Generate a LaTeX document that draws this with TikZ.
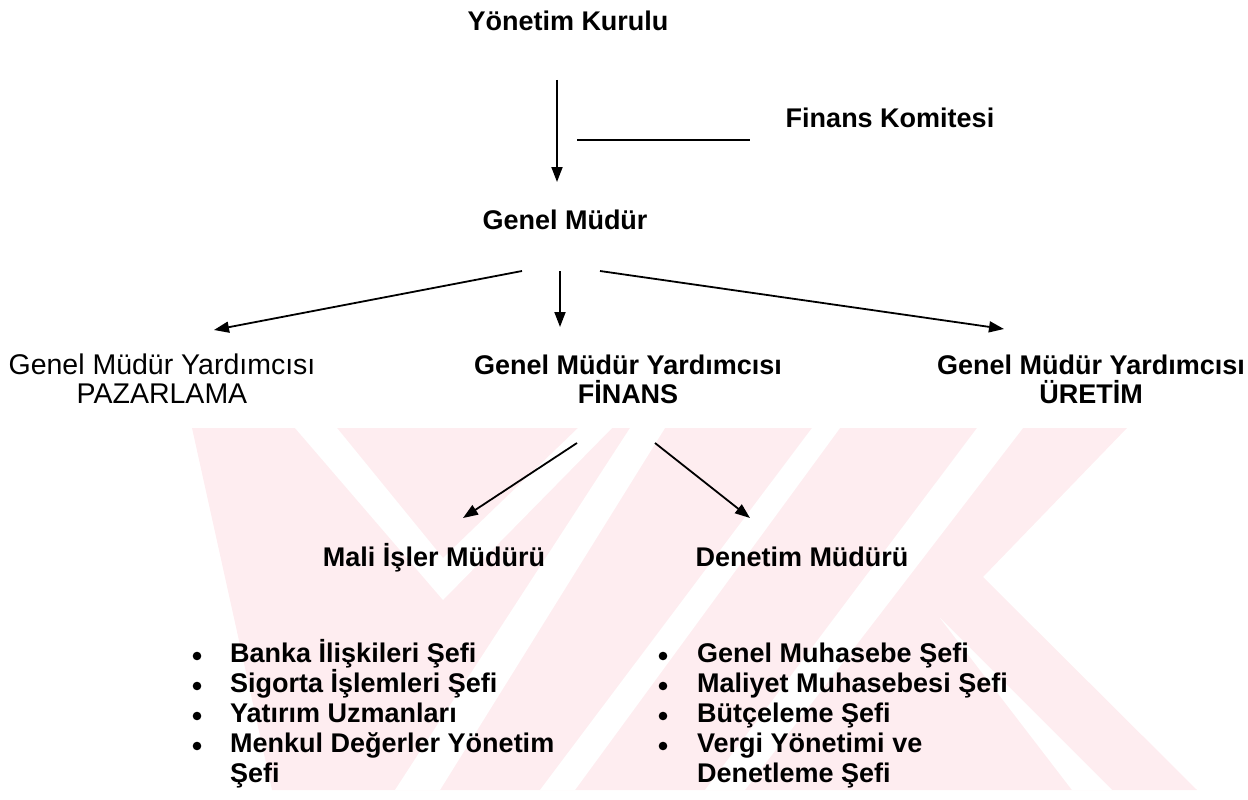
\documentclass[tikz,border=0pt]{standalone}
\usepackage{fontspec}
\setmainfont{Liberation Sans}
\usepackage{tikz}
\usetikzlibrary{arrows.meta}
\definecolor{wmpink}{RGB}{254,237,240}
\tikzset{
  lbl/.style={font=\fontsize{27}{29}\selectfont\bfseries, inner sep=0pt},
  lblthin/.style={font=\fontsize{28.5}{29}\selectfont, inner sep=0pt},
  arr/.style={->, line width=1.8pt},
}

\begin{document}
\begin{tikzpicture}[x=1pt, y=-1pt, >={Triangle[length=15pt,width=11pt]}]
  \useasboundingbox (0,0) rectangle (1248,800);
  \fill[wmpink] (192,428) -- (1127,428) -- (983,577) -- (1197,790) -- (272,790) -- cycle;
  \fill[white] (295,428) -- (443,600) -- (612,428) -- (578,428) -- (443,558) -- (337,428) -- cycle;
  \fill[white] (395,790) -- (440,790) -- (665,428) -- (630,428) -- cycle;
  \fill[white] (540,790) -- (575,790) -- (840,428) -- (812,428) -- cycle;
  \fill[white] (705,790) -- (745,790) -- (1023,428) -- (977,428) -- cycle;
  \fill[white] (940,618) -- (1112,790) -- (1072,790) -- cycle;

  \node[lbl, anchor=base] (kurul) at (568,31) {Yönetim Kurulu};
  \node[lbl, anchor=base] (komite) at (890,127) {Finans Komitesi};
  \node[lbl, anchor=base] (gm) at (565,229) {Genel Müdür};
  \node[lblthin, anchor=base, align=center] (gmyp) at (162,403) {Genel Müdür Yardımcısı\\PAZARLAMA};
  \node[lbl, anchor=base, align=center] (gmyf) at (628,403) {Genel Müdür Yardımcısı\\FİNANS};
  \node[lbl, anchor=base, align=center] (gmyu) at (1091,403) {Genel Müdür Yardımcısı\\ÜRETİM};
  \node[lbl, anchor=base] (mali) at (434,566) {Mali İşler Müdürü};
  \node[lbl, anchor=base] (denetim) at (802,566) {Denetim Müdürü};

  \foreach \t [count=\i] in {Banka İlişkileri Şefi, Sigorta İşlemleri Şefi, Yatırım Uzmanları, Menkul Değerler Yönetim, Şefi}
    \node[lbl, anchor=base west] (mali\i) at (230,{632+30*\i}) {\t};
  \foreach \t [count=\i] in {Genel Muhasebe Şefi, Maliyet Muhasebesi Şefi, Bütçeleme Şefi, Vergi Yönetimi ve, Denetleme Şefi}
    \node[lbl, anchor=base west] (den\i) at (697,{632+30*\i}) {\t};
  \foreach \i in {1,...,4} {
    \fill (197,{626+30*\i}) circle (4.3pt);
    \fill (663,{626+30*\i}) circle (4.3pt);
  }

  \coordinate (kurul-o) at (557,80);
  \coordinate (gm-i) at (557,182);
  \coordinate (komite-a) at (577,140);
  \coordinate (komite-b) at (750,140);
  \draw[arr] (kurul-o) -- (gm-i);
  \draw[line width=2.4pt] (komite-a) -- (komite-b);

  \coordinate (gm-l) at (522,271);
  \coordinate (gm-m) at (560,271);
  \coordinate (gm-r) at (600,271);
  \coordinate (gmyp-i) at (214,330);
  \coordinate (gmyf-i) at (560,327);
  \coordinate (gmyu-i) at (1004,329);
  \draw[arr] (gm-l) -- (gmyp-i);
  \draw[arr] (gm-m) -- (gmyf-i);
  \draw[arr] (gm-r) -- (gmyu-i);

  \coordinate (gmyf-l) at (577,443);
  \coordinate (gmyf-r) at (655,443);
  \coordinate (mali-i) at (463,518);
  \coordinate (denetim-i) at (750,518);
  \draw[arr] (gmyf-l) -- (mali-i);
  \draw[arr] (gmyf-r) -- (denetim-i);
\end{tikzpicture}
\end{document}
